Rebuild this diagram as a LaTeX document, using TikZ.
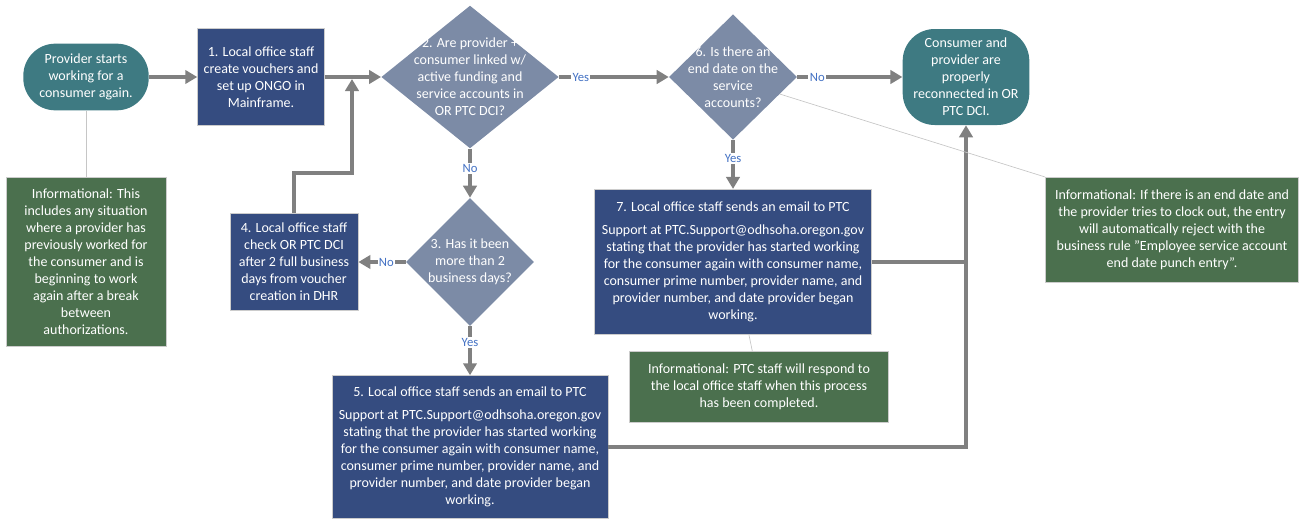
\documentclass[tikz,border=0pt]{standalone}
\usepackage{fontspec}
\setmainfont{Carlito}
\usetikzlibrary{arrows,arrows.meta,shapes.geometric,positioning}
\definecolor{termcol}{RGB}{62,122,130}
\definecolor{proccol}{RGB}{53,76,128}
\definecolor{deccol}{RGB}{124,139,166}
\definecolor{infocol}{RGB}{75,112,78}
\definecolor{flowcol}{RGB}{128,128,128}
\definecolor{labcol}{RGB}{68,114,196}
\begin{document}
\begin{tikzpicture}[x=0.75pt,y=-0.75pt,
  every node/.style={text=white,font=\fontsize{10.5}{12.75}\selectfont,align=center},
  term/.style={fill=termcol,rounded corners=24pt,minimum width=94pt,minimum height=50pt,inner sep=2pt},
  proc/.style={fill=proccol,draw=gray!40,line width=.6pt,inner sep=2pt},
  dec/.style={diamond,fill=deccol,inner sep=-14pt},
  info/.style={fill=infocol,draw=gray!40,line width=.6pt,inner sep=2pt},
  flow/.style={draw=flowcol,line width=2.6pt,-{Triangle[length=9pt,width=10pt]}},
  link/.style={draw=flowcol,line width=2.6pt},
  note/.style={draw=gray!45,line width=.5pt},
  lab/.style={fill=white,text=labcol,inner sep=1pt,font=\fontsize{9.5}{11}\selectfont}]
  \useasboundingbox (0,0) rectangle (1302,518);
  \node[term] (start) at (86,77) {Provider starts\\working for a\\consumer again.};
  \node[proc,minimum width=95pt,minimum height=73pt] (act1) at (261,77) {1. Local office staff\\create vouchers and\\set up ONGO in\\Mainframe.};
  \node[dec,minimum width=133pt,minimum height=107pt] (q2) at (470,77) {2. Are provider +\\consumer linked w/\\active funding and\\service accounts in\\OR PTC DCI?};
  \node[dec,minimum width=96pt,minimum height=94pt] (q6) at (733,77) {6. Is there an\\end date on the\\service\\accounts?};
  \node[term,minimum width=95pt,minimum height=72pt] (stop) at (966,77) {Consumer and\\provider are\\properly\\reconnected in OR\\PTC DCI.};
  \node[dec,minimum width=96pt,minimum height=96pt] (q3) at (470,262) {3. Has it been\\more than 2\\business days?};
  \node[proc,minimum width=96pt,minimum height=73pt] (act4) at (294,262) {4. Local office staff\\check OR PTC DCI\\after 2 full business\\days from voucher\\creation in DHR};
  \node[proc,minimum width=207pt,minimum height=107pt] (act5) at (470,447) {5. Local office staff sends an email to PTC\\[4.5pt]Support at PTC.Support@odhsoha.oregon.gov\\stating that the provider has started working\\for the consumer again with consumer name,\\consumer prime number, provider name, and\\provider number, and date provider began\\working.};
  \node[proc,minimum width=208pt,minimum height=109pt] (act7) at (733,262) {7. Local office staff sends an email to PTC\\[4.5pt]Support at PTC.Support@odhsoha.oregon.gov\\stating that the provider has started working\\for the consumer again with consumer name,\\consumer prime number, provider name, and\\provider number, and date provider began\\working.};
  \node[info,minimum width=120pt,minimum height=127pt] (info1) at (86,262) {Informational: This\\includes any situation\\where a provider has\\previously worked for\\the consumer and is\\beginning to work\\again after a break\\between\\authorizations.};
  \node[info,minimum width=190pt,minimum height=79pt] (info2) at (1172,230) {Informational: If there is an end date and\\the provider tries to clock out, the entry\\will automatically reject with the\\business rule "Employee service account\\end date punch entry”.};
  \node[info,minimum width=194pt,minimum height=53pt] (info3) at (759,387) {Informational: PTC staff will respond to\\the local office staff when this process\\has been completed.};
  \coordinate (join) at (352,79);
  \coordinate (bend) at (294,173);
  \coordinate (meet) at (act7.east -| stop.south);
  \draw[flow] (start) -- (act1);
  \draw[flow] (act1) -- (q2);
  \draw[flow] (q2) -- node[lab,pos=.2]{Yes} (q6);
  \draw[flow] (q6) -- node[lab,pos=.19]{No} (stop);
  \draw[flow] (q2) -- node[lab,pos=.4]{No} (q3);
  \draw[flow] (q3) -- node[lab,pos=.41]{No} (act4);
  \draw[flow] (q3) -- node[lab,pos=.34]{Yes} (act5);
  \draw[flow] (q6) -- node[lab,pos=.37]{Yes} (act7);
  \draw[flow] (act4) -- (bend) -| (join);
  \draw[flow] (act5) -| (stop);
  \draw[link] (act7) -- (meet);
  \draw[note] (start) -- (info1);
  \draw[note] ([xshift=12pt]act7.south) -- ([xshift=-5pt]info3.north);
  \draw[note] (q6.-20) -- (info2.north west);
\end{tikzpicture}
\end{document}
